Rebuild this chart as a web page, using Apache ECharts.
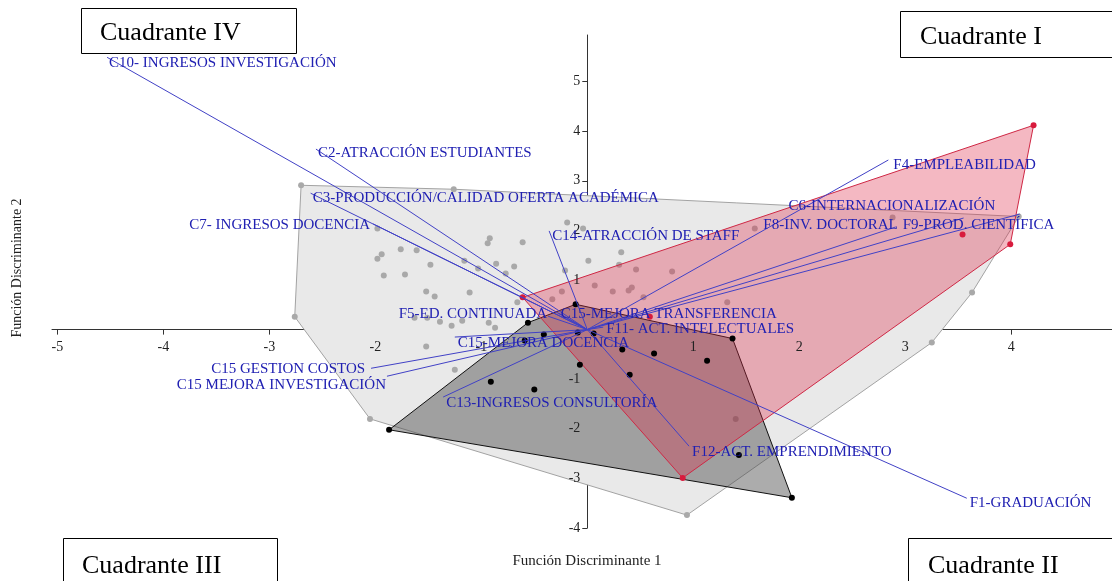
<!DOCTYPE html>
<html>
<head>
<meta charset="utf-8">
<script src="https://cdn.jsdelivr.net/npm/echarts@6/dist/echarts.min.js"></script>
<style>
  html, body { margin: 0; padding: 0; background: #fff; }
  #chart { width: 1112px; height: 581px; }
</style>
</head>
<body>
<div id="chart"></div>
<script>
// Puntuaciones discriminantes (Función 1, Función 2) por grupo
const grupoGris = [
  [-2.70, 2.91], [-1.26, 2.83], [-0.92, 1.84], [-0.94, 1.74], [-0.61, 1.76],
  [-1.76, 1.62], [-1.61, 1.60], [-1.94, 1.52], [-1.98, 1.43], [-1.48, 1.31],
  [-1.16, 1.39], [-0.86, 1.33], [-0.69, 1.27], [-0.77, 1.13], [-1.92, 1.09],
  [-1.72, 1.11], [-1.03, 1.23], [-1.52, 0.77], [-1.44, 0.67], [-1.11, 0.75],
  [-0.66, 0.55], [-1.98, 2.04], [-0.19, 2.16], [-0.04, 2.04], [0.01, 1.39],
  [0.32, 1.56], [0.30, 1.31], [0.46, 1.21], [0.07, 0.89], [0.24, 0.77],
  [0.39, 0.79], [0.42, 0.85], [0.53, 0.65], [-0.21, 1.19], [-0.24, 0.77],
  [-0.33, 0.61], [-1.51, 0.24], [-1.63, 0.24], [-1.39, 0.16], [-1.28, 0.08],
  [-1.18, 0.18], [-0.93, 0.14], [-0.87, 0.04], [-1.52, -0.34], [-1.25, -0.81],
  [0.80, 1.17], [1.58, 2.04], [2.88, 2.26], [4.07, 2.28], [3.63, 0.75],
  [3.25, -0.26], [0.94, -3.74], [-2.05, -1.80], [-2.76, 0.26], [1.40, -1.80],
  [1.32, 0.55]
];
const grupoNegro = [
  [-1.87, -2.02], [-0.56, 0.14], [-0.11, 0.51], [-0.41, -0.10], [-0.59, -0.22],
  [0.06, -0.08], [-0.09, -0.06], [1.37, -0.18], [0.33, -0.40], [0.63, -0.48],
  [1.13, -0.63], [-0.07, -0.71], [0.40, -0.91], [-0.91, -1.05], [-0.50, -1.21],
  [1.43, -2.53], [1.93, -3.39]
];
const grupoRojo = [
  [-0.61, 0.65], [4.21, 4.12], [3.99, 1.72], [3.54, 1.92], [0.90, -2.99], [0.59, 0.26]
];

// Vectores de las variables (cargas en Función 1 y Función 2)
const variables = [
  'C10- INGRESOS INVESTIGACIÓN', 'C2-ATRACCIÓN ESTUDIANTES',
  'C3-PRODUCCIÓN/CALIDAD OFERTA ACADÉMICA', 'C7- INGRESOS DOCENCIA',
  'C14-ATRACCIÓN DE STAFF', 'F4-EMPLEABILIDAD', 'C6-INTERNACIONALIZACIÓN',
  'F8-INV. DOCTORAL', 'F9-PROD. CIENTÍFICA', 'F1-GRADUACIÓN',
  'F12-ACT. EMPRENDIMIENTO', 'C13-INGRESOS CONSULTORÍA', 'C15 GESTION COSTOS',
  'C15 MEJORA INVESTIGACIÓN', 'F5-ED. CONTINUADA', 'C15-MEJORA TRANSFERENCIA',
  'F11- ACT. INTELECTUALES', 'C15-MEJORA DOCENCIA'
];
const cargaF1 = [-4.53, -2.56, -2.61, -2.02, -0.36, 2.84, 3.55, 2.91, 4.08, 3.58,
                 0.96, -1.36, -2.04, -1.89, -0.37, -0.27, 0.15, -1.25];
const cargaF2 = [5.49, 3.64, 2.75, 2.13, 1.99, 3.42, 2.25, 2.07, 2.33, -3.40,
                 -2.35, -1.36, -0.78, -0.94, 0.27, 0.33, 0.05, -0.15];

const ticksX = [-5, -4, -3, -2, -1, 1, 2, 3, 4];
const ticksY = [-4, -3, -2, -1, 1, 2, 3, 4, 5];

const cuadrantes = ['Cuadrante IV', 'Cuadrante I', 'Cuadrante III', 'Cuadrante II'];

// Colocación de cada etiqueta respecto al extremo de su vector: [alineación, dx, dy] en px
const etiquetaPos = [
  ['left', 2, 6], ['left', 2, 4], ['left', 2, 5], ['right', -3, 1],
  ['left', 3, 5], ['left', 5, 5], ['left', -175, -12], ['right', 2, -2],
  ['left', -117, 11], ['left', 3, 5], ['left', 3, 6], ['left', 3, 6],
  ['right', -6, 1], ['right', -1, 9], ['right', -1, -2], ['left', 2, 1],
  ['left', 3, 2], ['left', 3, 6]
];

const SERIF = '"Liberation Serif", "Times New Roman", "DejaVu Serif", serif';

// Envolvente convexa (cadena monótona)
function envolvente(pts) {
  const p = pts.slice().sort((a, b) => a[0] - b[0] || a[1] - b[1]);
  const cross = (o, a, b) => (a[0] - o[0]) * (b[1] - o[1]) - (a[1] - o[1]) * (b[0] - o[0]);
  const lower = [], upper = [];
  for (const q of p) {
    while (lower.length >= 2 && cross(lower[lower.length - 2], lower[lower.length - 1], q) <= 0) lower.pop();
    lower.push(q);
  }
  for (let i = p.length - 1; i >= 0; i--) {
    const q = p[i];
    while (upper.length >= 2 && cross(upper[upper.length - 2], upper[upper.length - 1], q) <= 0) upper.pop();
    upper.push(q);
  }
  upper.pop(); lower.pop();
  return lower.concat(upper);
}

function serieEnvolvente(pts, fill, stroke, z) {
  const hull = envolvente(pts);
  return {
    type: 'custom',
    z: z,
    silent: true,
    data: [0],
    renderItem: function (params, api) {
      return {
        type: 'polygon',
        shape: { points: hull.map(p => api.coord(p)) },
        style: { fill: fill, stroke: stroke, lineWidth: 1 }
      };
    }
  };
}

function seriePuntos(pts, color, z) {
  return {
    type: 'scatter',
    z: z,
    symbol: 'circle',
    symbolSize: 6,
    silent: true,
    itemStyle: { color: color, opacity: 1 },
    data: pts
  };
}

// Etiquetas de las marcas, colocadas junto a los ejes que cruzan en el origen
const marcasData = ticksX.map(v => [v, 0, 0]).concat(ticksY.map(v => [0, v, 1]));
const serieMarcas = {
  type: 'custom',
  z: 8,
  silent: true,
  data: marcasData,
  renderItem: function (params, api) {
    const p = api.coord([api.value(0), api.value(1)]);
    const esX = api.value(2) === 0;
    const v = esX ? api.value(0) : api.value(1);
    return {
      type: 'text',
      x: esX ? p[0] : p[0] - 7,
      y: esX ? p[1] + 18 : p[1],
      style: {
        text: String(v),
        align: esX ? 'center' : 'right',
        verticalAlign: 'middle',
        fill: '#222',
        font: '14px ' + SERIF
      }
    };
  }
};

const vectorData = variables.map((n, i) => [cargaF1[i], cargaF2[i], i]);

const chart = echarts.init(document.getElementById('chart'), null, { renderer: 'canvas' });

chart.setOption({
  animation: false,
  backgroundColor: '#ffffff',
  grid: { left: 52, right: 0, top: 35, bottom: 53, containLabel: false },
  xAxis: {
    type: 'value',
    min: -5.05,
    max: 4.95,
    splitLine: { show: false },
    axisLine: { onZero: true, lineStyle: { color: '#333', width: 1 } },
    axisTick: { show: true, length: 5, customValues: ticksX, lineStyle: { color: '#333' } },
    axisLabel: { show: false }
  },
  yAxis: {
    type: 'value',
    min: -4,
    max: 5.94,
    splitLine: { show: false },
    axisLine: { onZero: true, lineStyle: { color: '#333', width: 1 } },
    axisTick: { show: true, length: 5, customValues: ticksY, lineStyle: { color: '#333' } },
    axisLabel: { show: false }
  },
  graphic: [
    {
      type: 'text', x: 17, y: 268, rotation: Math.PI / 2,
      style: { text: 'Función Discriminante 2', fill: '#222', font: '14px ' + SERIF, align: 'center', verticalAlign: 'middle' }
    },
    {
      type: 'text', x: 587, y: 561,
      style: { text: 'Función Discriminante 1', fill: '#222', font: '15px ' + SERIF, align: 'center', verticalAlign: 'middle' }
    },
    { type: 'rect', shape: { x: 81.5, y: 8.5, width: 215, height: 45 }, style: { fill: '#fff', stroke: '#000', lineWidth: 1 }, z: 100 },
    { type: 'text', x: 100, y: 33, z: 101, style: { text: cuadrantes[0], fill: '#000', font: '26px ' + SERIF, verticalAlign: 'middle' } },
    { type: 'rect', shape: { x: 900.5, y: 11.5, width: 230, height: 46 }, style: { fill: '#fff', stroke: '#000', lineWidth: 1 }, z: 100 },
    { type: 'text', x: 920, y: 37, z: 101, style: { text: cuadrantes[1], fill: '#000', font: '26px ' + SERIF, verticalAlign: 'middle' } },
    { type: 'rect', shape: { x: 63.5, y: 538.5, width: 214, height: 60 }, style: { fill: '#fff', stroke: '#000', lineWidth: 1 }, z: 100 },
    { type: 'text', x: 82, y: 566, z: 101, style: { text: cuadrantes[2], fill: '#000', font: '26px ' + SERIF, verticalAlign: 'middle' } },
    { type: 'rect', shape: { x: 908.5, y: 538.5, width: 230, height: 60 }, style: { fill: '#fff', stroke: '#000', lineWidth: 1 }, z: 100 },
    { type: 'text', x: 928, y: 566, z: 101, style: { text: cuadrantes[3], fill: '#000', font: '26px ' + SERIF, verticalAlign: 'middle' } }
  ],
  series: [
    serieEnvolvente(grupoGris, '#e9e9e9', '#a3a3a3', 1),
    seriePuntos(grupoGris, '#a9a9a9', 2),
    serieEnvolvente(grupoNegro, 'rgba(70,70,70,0.45)', '#111', 3),
    serieEnvolvente(grupoRojo, 'rgba(222,40,70,0.33)', '#cf2845', 4),
    seriePuntos(grupoNegro, '#000', 5),
    seriePuntos(grupoRojo, '#d81b3d', 6),
    serieMarcas,
    {
      type: 'custom',
      z: 10,
      silent: true,
      data: vectorData,
      renderItem: function (params, api) {
        const o = api.coord([0, 0]);
        const e = api.coord([api.value(0), api.value(1)]);
        const i = api.value(2);
        const pos = etiquetaPos[i];
        return {
          type: 'group',
          children: [
            {
              type: 'line',
              shape: { x1: o[0], y1: o[1], x2: e[0], y2: e[1] },
              style: { stroke: '#4141c6', lineWidth: 1 }
            },
            {
              type: 'text',
              x: e[0] + pos[1],
              y: e[1] + pos[2],
              style: {
                text: variables[i],
                align: pos[0],
                verticalAlign: 'middle',
                fill: '#2020b2',
                font: '15px ' + SERIF
              }
            }
          ]
        };
      }
    }
  ]
});
</script>
</body>
</html>
